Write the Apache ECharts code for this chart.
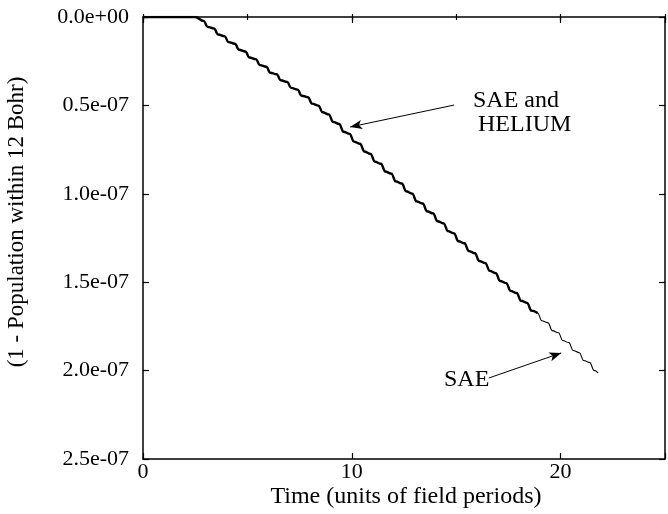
<!DOCTYPE html>
<html>
<head>
<meta charset="utf-8">
<script src="https://cdn.jsdelivr.net/npm/echarts@6/dist/echarts.min.js"></script>
<style>html,body{margin:0;padding:0;background:#fff;}#c{width:668px;height:514px;}</style>
</head>
<body>
<div id="c"></div>
<script>
// Time (units of field periods)
const times = [0, 2.5, 2.9,3.1, 3.4,3.6, 3.9,4.1, 4.4,4.6, 4.9,5.1, 5.4,5.6, 5.9,6.1, 6.4,6.6, 6.9,7.1, 7.4,7.6, 7.9,8.1, 8.4,8.6, 8.9,9.1, 9.4,9.6, 9.9,10.1, 10.4,10.6, 10.9,11.1, 11.4,11.6, 11.9,12.1, 12.4,12.6, 12.9,13.1, 13.4,13.6, 13.9,14.1, 14.4,14.6, 14.9,15.1, 15.4,15.6, 15.9,16.1, 16.4,16.6, 16.9,17.1, 17.4,17.6, 17.9,18.1, 18.4,18.6, 18.9,19.1, 19.4,19.6, 19.9,20.1, 20.4,20.6, 20.9,21.1, 21.4,21.6, 21.8];
// (1 - population within 12 Bohr), in units of 1e-07
const saeValues = [0, 0, 0.022,0.056, 0.065,0.099, 0.108,0.142, 0.151,0.185, 0.195,0.229, 0.238,0.272, 0.281,0.315, 0.324,0.358, 0.367,0.401, 0.411,0.445, 0.454,0.490, 0.501,0.539, 0.551,0.593, 0.605,0.649, 0.661,0.705, 0.717,0.761, 0.774,0.818, 0.830,0.874, 0.886,0.930, 0.942,0.986, 0.999,1.043, 1.055,1.099, 1.111,1.155, 1.167,1.211, 1.224,1.268, 1.280,1.324, 1.336,1.380, 1.392,1.436, 1.449,1.493, 1.505,1.549, 1.561,1.605, 1.617,1.661, 1.674,1.718, 1.730,1.774, 1.786,1.830, 1.842,1.886, 1.899,1.943, 1.955,1.999, 2.013];
// HELIUM curve coincides with SAE up to t ~ 19
const heliumCount = 67;
const heliumTimes = times.slice(0, heliumCount);
const heliumValues = saeValues.slice(0, heliumCount);
const xTicksMajor = [0, 10, 20];
const yTickLabels = ['0.0e+00', '0.5e-07', '1.0e-07', '1.5e-07', '2.0e-07', '2.5e-07'];

const FONT = '"Liberation Serif", "DejaVu Serif", serif';
const chart = echarts.init(document.getElementById('c'), null, {renderer: 'canvas'});

const zip = (a, b) => a.map((v, i) => [v, b[i]]);

const baseX = {
  type: 'value', min: 0, max: 25,
  splitLine: {show: false},
  axisLine: {show: true, onZero: false, lineStyle: {color: '#000', width: 1.5}},
};
const option = {
  animation: false,
  backgroundColor: '#fff',
  grid: {left: 143, top: 17, width: 527, height: 442, containLabel: false},
  xAxis: [
    Object.assign({}, baseX, {
      position: 'bottom', interval: 10,
      axisTick: {show: true, inside: true, length: 6, lineStyle: {color: '#000', width: 1.2}},
      axisLabel: {show: true, margin: 2, color: '#000', fontFamily: FONT, fontSize: 22,
        formatter: v => xTicksMajor.indexOf(v) >= 0 ? String(v) : ''}
    }),
    Object.assign({}, baseX, {
      position: 'bottom', interval: 5,
      axisLine: {show: false},
      axisTick: {show: true, inside: true, length: 3, lineStyle: {color: '#000', width: 1.2}},
      axisLabel: {show: false}
    }),
    Object.assign({}, baseX, {
      position: 'top', interval: 10,
      axisTick: {show: true, inside: true, length: 6, lineStyle: {color: '#000', width: 1.2}},
      axisLabel: {show: false}
    }),
    Object.assign({}, baseX, {
      position: 'top', interval: 5,
      axisLine: {show: false},
      axisTick: {show: true, inside: true, length: 3, lineStyle: {color: '#000', width: 1.2}},
      axisLabel: {show: false}
    })
  ],
  yAxis: [
    {
      type: 'value', min: 0, max: 2.5, interval: 0.5, inverse: true, position: 'left',
      splitLine: {show: false},
      axisLine: {show: true, onZero: false, lineStyle: {color: '#000', width: 1.5}},
      axisTick: {show: true, inside: true, length: 6, lineStyle: {color: '#000', width: 1.2}},
      axisLabel: {show: true, margin: 14, color: '#000', fontFamily: FONT, fontSize: 22,
        formatter: (v) => yTickLabels[Math.round(v / 0.5)]}
    },
    {
      type: 'value', min: 0, max: 2.5, interval: 0.5, inverse: true, position: 'right',
      splitLine: {show: false},
      axisLine: {show: true, onZero: false, lineStyle: {color: '#000', width: 1.5}},
      axisTick: {show: true, inside: true, length: 6, lineStyle: {color: '#000', width: 1.2}},
      axisLabel: {show: false}
    }
  ],
  series: [
    {
      name: 'SAE', type: 'line', xAxisIndex: 0, yAxisIndex: 0,
      data: zip(times, saeValues),
      showSymbol: false, smooth: 0.4, smoothMonotone: 'x',
      lineStyle: {color: '#000', width: 1.1},
      silent: true,
      markLine: {
        silent: true, symbol: ['none', 'arrow'], symbolSize: [7, 12],
        label: {show: false},
        lineStyle: {color: '#000', width: 1, type: 'solid'},
        data: [
          [{coord: [14.9, 0.498]}, {coord: [9.92, 0.622]}],
          [{coord: [16.56, 2.042]}, {coord: [20.03, 1.900]}]
        ]
      }
    },
    {
      name: 'HELIUM', type: 'line', xAxisIndex: 0, yAxisIndex: 0,
      data: zip(heliumTimes, heliumValues),
      showSymbol: false, smooth: 0.4, smoothMonotone: 'x',
      lineStyle: {color: '#000', width: 2.4},
      silent: true
    }
  ],
  graphic: [
    {type: 'text', x: 17, y: 222, rotation: Math.PI / 2,
      style: {text: '(1 - Population within 12 Bohr)', fill: '#000', font: '23px ' + FONT, align: 'center', verticalAlign: 'middle'}},
    {type: 'text', x: 406, y: 497,
      style: {text: 'Time (units of field periods)', fill: '#000', font: '24px ' + FONT, align: 'center', verticalAlign: 'middle'}},
    {type: 'text', x: 473, y: 101,
      style: {text: 'SAE and', fill: '#000', font: '24px ' + FONT, align: 'left', verticalAlign: 'middle'}},
    {type: 'text', x: 478, y: 125,
      style: {text: 'HELIUM', fill: '#000', font: '24px ' + FONT, align: 'left', verticalAlign: 'middle'}},
    {type: 'text', x: 444, y: 380,
      style: {text: 'SAE', fill: '#000', font: '24px ' + FONT, align: 'left', verticalAlign: 'middle'}}
  ]
};
chart.setOption(option);
</script>
</body>
</html>
